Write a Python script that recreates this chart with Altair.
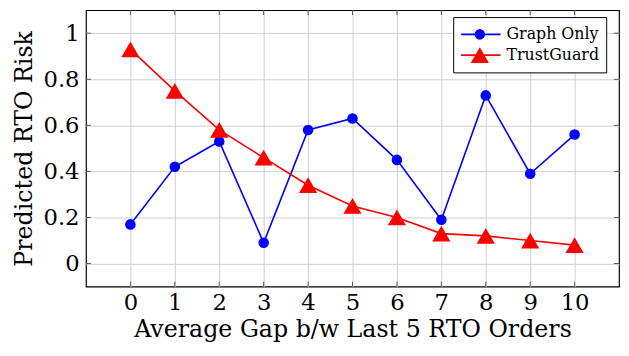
import altair as alt
import pandas as pd

gaps = [0, 1, 2, 3, 4, 5, 6, 7, 8, 9, 10]
graph_only = [0.17, 0.42, 0.53, 0.09, 0.58, 0.63, 0.45, 0.19, 0.73, 0.39, 0.56]
trustguard = [0.93, 0.75, 0.58, 0.46, 0.34, 0.25, 0.20, 0.13, 0.12, 0.10, 0.08]
series_names = ["Graph Only", "TrustGuard"]
marker_codes = ["m1", "m2"]
series_colors = ["blue", "red"]
series_shapes = ["circle", "triangle-up"]
series_sizes = [115, 340]
x_ticks = [0, 1, 2, 3, 4, 5, 6, 7, 8, 9, 10]
y_ticks = [0, 0.2, 0.4, 0.6, 0.8, 1]

rows = []
for g, a, b in zip(gaps, graph_only, trustguard):
    rows.append({"gap": g, "risk": a, "series": series_names[0], "marker": marker_codes[0]})
    rows.append({"gap": g, "risk": b, "series": series_names[1], "marker": marker_codes[1]})
df = pd.DataFrame(rows)

W, H = 540, 280
FONT = "DejaVu Serif"

xscale = alt.Scale(domain=[-1, 11], nice=False, zero=False)
yscale = alt.Scale(domain=[-0.1, 1.1], nice=False, zero=False)

xax = alt.Axis(values=x_ticks, grid=True, ticks=False, domain=False, labelFontSize=23,
               labelFont=FONT, titleFont=FONT, titleFontSize=24, titleFontWeight="normal",
               labelColor="black", titleColor="black", gridColor="#cfcfcf", labelPadding=5,
               titlePadding=4, labelFlush=False)
yax = alt.Axis(values=y_ticks, grid=True, ticks=False, domain=False, labelFontSize=23,
               labelFont=FONT, titleFont=FONT, titleFontSize=24, titleFontWeight="normal",
               labelColor="black", titleColor="black", gridColor="#cfcfcf", labelPadding=7,
               titlePadding=7, labelFlush=False, format="~g")

XT = "Average Gap b/w Last 5 RTO Orders"
YT = "Predicted RTO Risk"

base = alt.Chart(df).encode(
    x=alt.X("gap:Q", scale=xscale, axis=xax, title=XT),
    y=alt.Y("risk:Q", scale=yscale, axis=yax, title=YT),
)

line_legend = alt.Legend(title=None, orient="none", legendX=372, legendY=7,
                         labelFont=FONT, labelFontSize=16, labelColor="black",
                         strokeColor="black", fillColor="white", padding=7,
                         symbolType="stroke", symbolSize=1600, symbolStrokeWidth=1.6,
                         symbolOffset=0, labelOffset=5, clipHeight=21, rowPadding=0,
                         zindex=1)
marker_legend = alt.Legend(title=None, orient="none", legendX=372, legendY=7,
                           labelFont=FONT, labelFontSize=16, labelOpacity=0, labelExpr="''",
                           padding=7, symbolOffset=10.5, labelOffset=5, clipHeight=21,
                           rowPadding=0, symbolStrokeWidth=0, zindex=2)

lines = base.mark_line(strokeWidth=1.6).encode(
    color=alt.Color("series:N", scale=alt.Scale(domain=series_names, range=series_colors), legend=line_legend))
points = base.mark_point(filled=True, opacity=1).encode(
    fill=alt.Fill("marker:N", scale=alt.Scale(domain=marker_codes, range=series_colors), legend=marker_legend),
    shape=alt.Shape("marker:N", scale=alt.Scale(domain=marker_codes, range=series_shapes), legend=marker_legend),
    size=alt.Size("marker:N", scale=alt.Scale(domain=marker_codes, range=series_sizes), legend=marker_legend),
)

xt = pd.DataFrame({"t": x_ticks})
yt = pd.DataFrame({"t": y_ticks})
tick_color = "#555555"
bt = alt.Chart(xt).mark_rule(color=tick_color).encode(x=alt.X("t:Q", scale=xscale, axis=xax, title=XT), y=alt.value(H), y2=alt.value(H - 5))
tt = alt.Chart(xt).mark_rule(color=tick_color).encode(x=alt.X("t:Q", scale=xscale, axis=xax, title=XT), y=alt.value(0), y2=alt.value(5))
lt = alt.Chart(yt).mark_rule(color=tick_color).encode(y=alt.Y("t:Q", scale=yscale, axis=yax, title=YT), x=alt.value(0), x2=alt.value(5))
rt = alt.Chart(yt).mark_rule(color=tick_color).encode(y=alt.Y("t:Q", scale=yscale, axis=yax, title=YT), x=alt.value(W), x2=alt.value(W - 5))

chart = alt.layer(bt, tt, lt, rt, lines, points).properties(
    width=W, height=H, background="white",
    autosize=alt.AutoSizeParams(type="none"),
    padding={"left": 79, "top": 0, "right": 2, "bottom": 60},
).configure_view(stroke="black", strokeWidth=1.2)

chart.save("out.html", embed_options={"renderer": "svg", "actions": False})
